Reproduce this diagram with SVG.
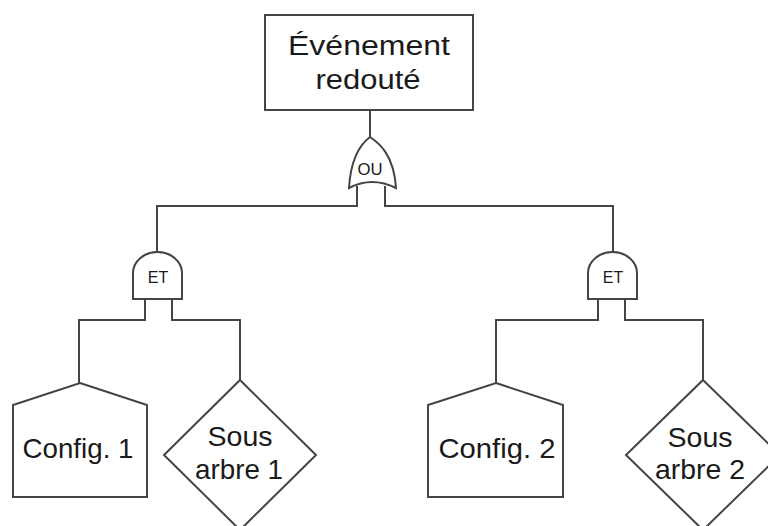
<svg xmlns="http://www.w3.org/2000/svg" width="768" height="526" viewBox="0 0 768 526">
<style>
.s{fill:#fff;stroke:#444;stroke-width:2}
.c{fill:none;stroke:#444;stroke-width:2}
text{font-family:"Liberation Sans",Arial,sans-serif;fill:#1a1a1a;text-anchor:middle}
.big{font-size:27px}
.mid{font-size:28px}
.g{font-size:16px}
</style>
<rect width="768" height="526" fill="#fff"/>
<g id="connectors">
<path class="c" d="M370 110V138"/>
<path class="c" d="M357 186V206H157V253"/>
<path class="c" d="M385 186V206H613V253"/>
<path class="c" d="M145 298V320H79V384"/>
<path class="c" d="M172 298V320H240V381"/>
<path class="c" d="M598 298V320H496V384"/>
<path class="c" d="M625 298V320H703V381"/>
</g>
<g id="top">
<rect class="s" x="265" y="15" width="208" height="95"/>
<text class="big" x="369" y="55" textLength="162" lengthAdjust="spacingAndGlyphs">Événement</text>
<text class="big" x="368" y="89" textLength="105" lengthAdjust="spacingAndGlyphs">redouté</text>
</g>
<g id="or">
<path class="s" d="M370 137C362 143 351 155 349 188Q372 176 396 188C394 155 379 143 370 137Z"/>
<text class="g" x="370" y="175" textLength="25" lengthAdjust="spacingAndGlyphs">OU</text>
</g>
<g id="and1">
<path class="s" d="M133 299V273A24.5 21 0 0 1 182 273V299Z"/>
<text class="g" x="158" y="283">ET</text>
</g>
<g id="and2">
<path class="s" d="M588 299V273A24.5 21 0 0 1 637 273V299Z"/>
<text class="g" x="613" y="283">ET</text>
</g>
<g id="config1">
<path class="s" d="M80 383L147 405V497H13V405Z"/>
<text class="mid" x="78" y="458" textLength="111" lengthAdjust="spacingAndGlyphs">Config. 1</text>
</g>
<g id="sub1">
<path class="s" d="M240 380L316 455L240 530L164 455Z"/>
<text class="mid" x="240" y="446" textLength="65" lengthAdjust="spacingAndGlyphs">Sous</text>
<text class="mid" x="239" y="479" textLength="88" lengthAdjust="spacingAndGlyphs">arbre 1</text>
</g>
<g id="config2">
<path class="s" d="M496 383L563 405V497H428V405Z"/>
<text class="mid" x="497" y="458" textLength="117" lengthAdjust="spacingAndGlyphs">Config. 2</text>
</g>
<g id="sub2">
<path class="s" d="M703 380L780 455L703 530L626 455Z"/>
<text class="mid" x="700" y="447" textLength="65" lengthAdjust="spacingAndGlyphs">Sous</text>
<text class="mid" x="700" y="479" textLength="90" lengthAdjust="spacingAndGlyphs">arbre 2</text>
</g>
</svg>
